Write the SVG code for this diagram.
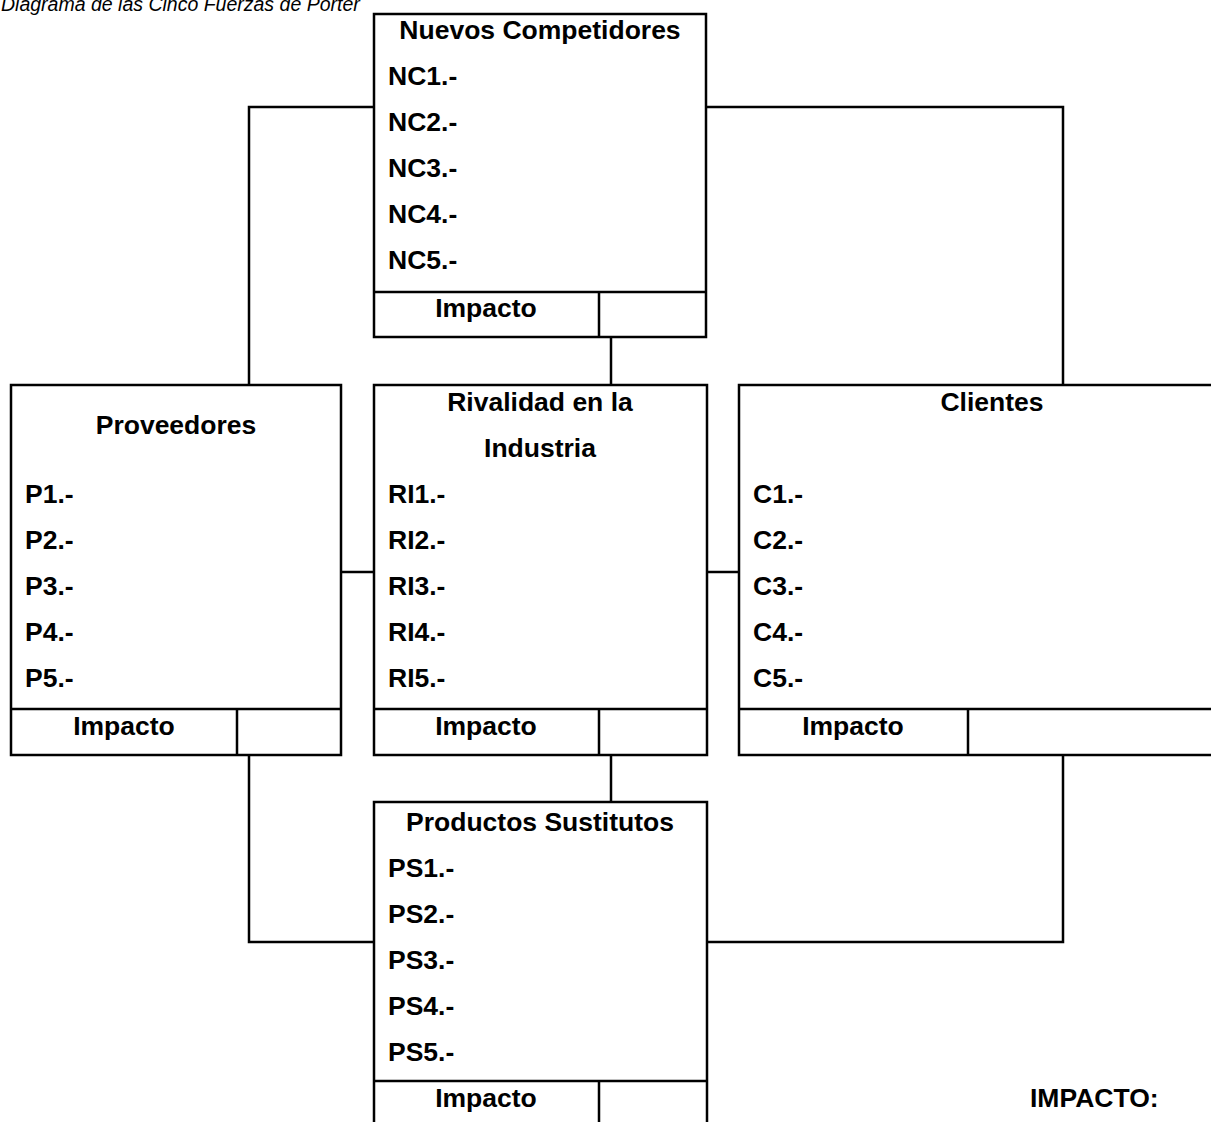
<svg xmlns="http://www.w3.org/2000/svg" width="1211" height="1122" viewBox="0 0 1211 1122">
<style>
text{font-family:"Liberation Sans",Arial,sans-serif;font-size:26.5px;font-weight:bold;fill:#000}
.t{text-anchor:middle}
.cap{font-weight:normal;font-style:italic;font-size:19.5px}
.box{fill:#fff;stroke:#000;stroke-width:2.5}
.ln{fill:none;stroke:#000;stroke-width:2.5}
</style>
<rect width="1211" height="1122" fill="#fff"/>
<text class="cap" x="1" y="11">Diagrama de las Cinco Fuerzas de Porter</text>
<g id="connectors">
<path class="ln" d="M374 107H249V384"/>
<path class="ln" d="M706 107H1063V384"/>
<path class="ln" d="M611 337V384"/>
<path class="ln" d="M341 572H374"/>
<path class="ln" d="M707 572H739"/>
<path class="ln" d="M611 755V802"/>
<path class="ln" d="M249 755V942H374"/>
<path class="ln" d="M1063 755V942H707"/>
</g>
<g id="nuevos-competidores">
<rect class="box" x="374" y="14" width="332" height="323"/>
<path class="ln" d="M374 292H706M599 292V337"/>
<text class="t" x="540" y="39">Nuevos Competidores</text>
<text x="388" y="85">NC1.-</text>
<text x="388" y="131">NC2.-</text>
<text x="388" y="177">NC3.-</text>
<text x="388" y="223">NC4.-</text>
<text x="388" y="269">NC5.-</text>
<text class="t" x="486" y="317">Impacto</text>
</g>
<g id="proveedores">
<rect class="box" x="11" y="385" width="330" height="370"/>
<path class="ln" d="M11 709H341M237 709V755"/>
<text class="t" x="176" y="434">Proveedores</text>
<text x="25" y="503">P1.-</text>
<text x="25" y="549">P2.-</text>
<text x="25" y="595">P3.-</text>
<text x="25" y="641">P4.-</text>
<text x="25" y="687">P5.-</text>
<text class="t" x="124" y="735">Impacto</text>
</g>
<g id="rivalidad">
<rect class="box" x="374" y="385" width="333" height="370"/>
<path class="ln" d="M374 709H707M599 709V755"/>
<text class="t" x="540" y="411">Rivalidad en la</text>
<text class="t" x="540" y="457">Industria</text>
<text x="388" y="503">RI1.-</text>
<text x="388" y="549">RI2.-</text>
<text x="388" y="595">RI3.-</text>
<text x="388" y="641">RI4.-</text>
<text x="388" y="687">RI5.-</text>
<text class="t" x="486" y="735">Impacto</text>
</g>
<g id="clientes">
<rect class="box" x="739" y="385" width="510" height="370"/>
<path class="ln" d="M739 709H1249M968 709V755"/>
<text class="t" x="992" y="411">Clientes</text>
<text x="753" y="503">C1.-</text>
<text x="753" y="549">C2.-</text>
<text x="753" y="595">C3.-</text>
<text x="753" y="641">C4.-</text>
<text x="753" y="687">C5.-</text>
<text class="t" x="853" y="735">Impacto</text>
</g>
<g id="productos-sustitutos">
<rect class="box" x="374" y="802" width="333" height="340"/>
<path class="ln" d="M374 1081H707M599 1081V1142"/>
<text class="t" x="540" y="831">Productos Sustitutos</text>
<text x="388" y="877">PS1.-</text>
<text x="388" y="923">PS2.-</text>
<text x="388" y="969">PS3.-</text>
<text x="388" y="1015">PS4.-</text>
<text x="388" y="1061">PS5.-</text>
<text class="t" x="486" y="1107">Impacto</text>
</g>
<g id="impacto-legend">
<text x="1030" y="1107">IMPACTO:</text>
</g>
</svg>
